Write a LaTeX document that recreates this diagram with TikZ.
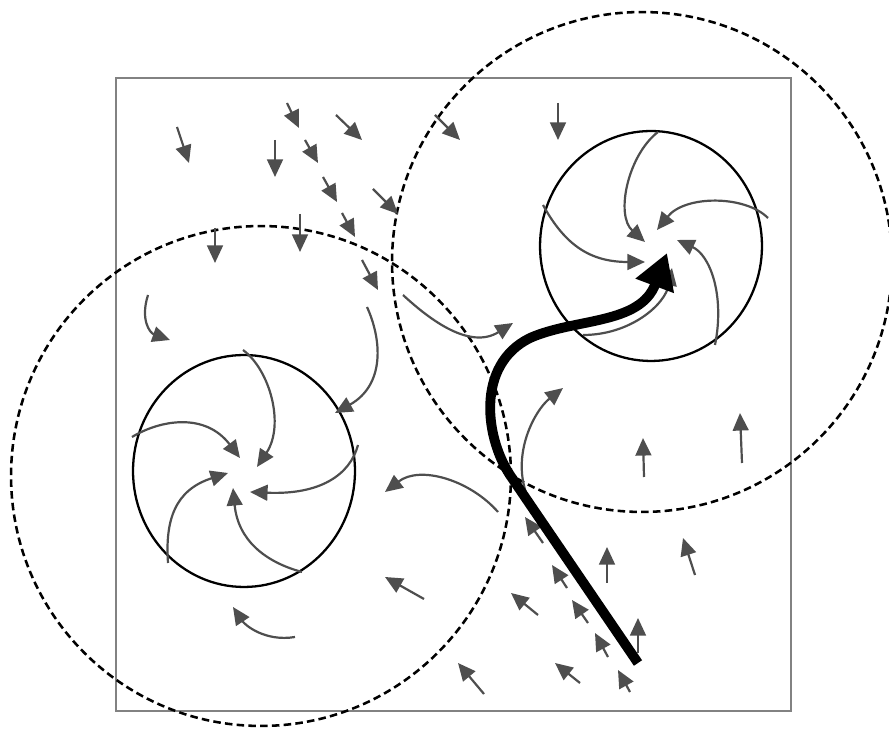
\documentclass[tikz,border=0pt]{standalone}
\usetikzlibrary{arrows.meta}
\definecolor{arrgray}{RGB}{78,78,78}
\definecolor{boxgray}{RGB}{130,130,130}
\begin{document}
\begin{tikzpicture}[x=0.02cm,y=-0.02cm,
  flow/.style={arrgray, line width=1.25pt, -{Triangle[length=10pt,width=9pt]}},
  zone/.style={draw=black, line width=1.45pt, dash pattern=on 4.3pt off 2.4pt},
  core/.style={draw=black, line width=1.3pt},
  frame/.style={draw=boxgray, line width=1.5pt},
  mainflow/.style={draw=black, line width=5.6pt, -{Triangle[length=20pt,width=22pt]}}]
\useasboundingbox (0,0) rectangle (889,732);
% frame
\draw[frame] (116,78) rectangle (791,711);
% centres
\coordinate (rz) at (642,262);
\coordinate (lz) at (261,476);
\coordinate (rc) at (651,246);
\coordinate (lc) at (244,471);
% dashed zones
\draw[zone] (rz) circle[radius=5cm];
\draw[zone] (lz) circle[radius=5cm];
% solid cores
\draw[core] (rc) ellipse[x radius=2.22cm, y radius=2.3cm];
\draw[core] (lc) ellipse[x radius=2.22cm, y radius=2.32cm];
% straight arrows
\draw[flow] (177,127) -- (189,163);
\draw[flow] (275,140) -- (275,177);
\draw[flow] (287,103) -- (299,128);
\draw[flow] (336,115) -- (362,140);
\draw[flow] (305,140) -- (318,163);
\draw[flow] (323,177) -- (337,202);
\draw[flow] (373,189) -- (398,214);
\draw[flow] (342,213) -- (355,237);
\draw[flow] (215,228) -- (215,263);
\draw[flow] (300,214) -- (300,252);
\draw[flow] (362,260) -- (378,290);
\draw[flow] (435,115) -- (460,140);
\draw[flow] (558,103) -- (558,140);
\draw[flow] (644,477) -- (643,438);
\draw[flow] (742,463) -- (740,413);
\draw[flow] (424,599) -- (385,577);
\draw[flow] (484,694) -- (458,663);
\draw[flow] (538,615) -- (511,593);
\draw[flow] (543,543) -- (525,517);
\draw[flow] (567,588) -- (552,565);
\draw[flow] (588,623) -- (572,600);
\draw[flow] (608,657) -- (595,633);
\draw[flow] (580,683) -- (555,663);
\draw[flow] (630,692) -- (618,670);
\draw[flow] (607,583) -- (607,547);
\draw[flow] (638,653) -- (638,618);
\draw[flow] (695,575) -- (683,538);
% curved arrows outside
\draw[flow] (148,295) .. controls (140,320) and (150,333) .. (170,340);
\draw[flow] (367,307) .. controls (382,340) and (385,385) .. (335,413);
\draw[flow] (403,295) .. controls (430,320) and (470,350) .. (513,323);
\draw[flow] (498,512) .. controls (470,480) and (420,465) .. (385,492);
\draw[flow] (528,498) .. controls (510,455) and (535,410) .. (563,388);
\draw[flow] (295,637) .. controls (265,642) and (245,625) .. (233,607);
% left core
\draw[flow] (243,350) .. controls (270,370) and (285,425) .. (257,467);
\draw[flow] (132,437) .. controls (160,420) and (205,412) .. (240,458);
\draw[flow] (358,445) .. controls (350,475) and (320,495) .. (250,492);
\draw[flow] (168,563) .. controls (165,520) and (175,490) .. (228,473);
\draw[flow] (302,572) .. controls (265,562) and (238,540) .. (233,488);
% right core
\draw[flow] (658,132) .. controls (628,155) and (615,215) .. (645,242);
\draw[flow] (768,218) .. controls (745,195) and (685,195) .. (657,230);
\draw[flow] (543,205) .. controls (565,245) and (590,262) .. (645,262);
\draw[flow] (715,345) .. controls (725,295) and (710,255) .. (677,240);
\draw[flow] (583,335) .. controls (630,335) and (665,305) .. (672,268);
% main path
\draw[mainflow] (638,663) -- (512,478) .. controls (485,440) and (475,365) .. (530,338)
  .. controls (575,318) and (640,325) .. (667,253);
\end{tikzpicture}
\end{document}
